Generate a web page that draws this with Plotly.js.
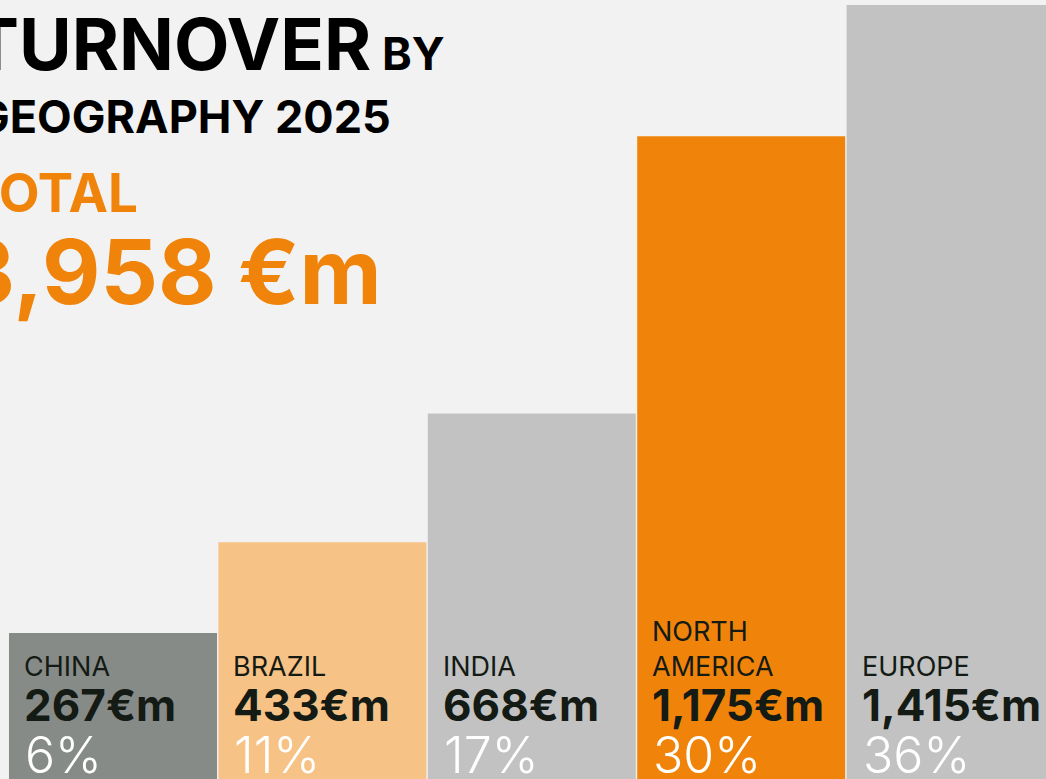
<!DOCTYPE html>
<html>
<head>
<meta charset="utf-8">
<script src="https://cdn.plot.ly/plotly-3.0.1.min.js"></script>
<style>html,body{margin:0;padding:0;background:#F2F2F2;}#chart{width:1046px;height:779px;}</style>
</head>
<body>
<div id="chart"></div>
<script>
const categories = ["CHINA", "BRAZIL", "INDIA", "NORTH<br>AMERICA", "EUROPE"];
const values = [267, 433, 668, 1175, 1415];
const valueLabels = ["267€m", "433€m", "668€m", "1,175€m", "1,415€m"];
const percentLabels = ["6%", "11%", "17%", "30%", "36%"];
const barColors = ["#878B87", "#F7C285", "#C2C2C2", "#F0840A", "#C2C2C2"];
const totalLabel = "3,958 €m";

const FONT = "Inter, 'Open Sans', sans-serif";
const xs = categories.map((c, i) => i);

const trace = {
  type: "bar",
  x: xs,
  y: values,
  marker: {color: barColors, line: {width: 0}},
  hoverinfo: "skip"
};

const annotations = [];
categories.forEach((c, i) => {
  annotations.push({
    xref: "x", yref: "paper", x: i, y: 0.121, xanchor: "left", yanchor: "bottom",
    xshift: -91, text: c, showarrow: false, align: "left",
    font: {family: FONT, size: 27, color: "#141A14", weight: 400}
  });
  annotations.push({
    xref: "x", yref: "paper", x: i, y: 0.0945, xanchor: "left", yanchor: "middle",
    xshift: -91, text: valueLabels[i], showarrow: false, align: "left",
    font: {family: FONT, size: 44, color: "#141A14", weight: 700}
  });
  annotations.push({
    xref: "x", yref: "paper", x: i, y: 0.031, xanchor: "left", yanchor: "middle",
    xshift: -90, text: percentLabels[i], showarrow: false, align: "left",
    font: {family: FONT, size: 50, color: "#FFFFFF", weight: 300}
  });
});

annotations.push({
  xref: "paper", yref: "paper", x: -0.03, y: 0.944, xanchor: "left", yanchor: "middle",
  text: "TURNOVER<span style='font-size:45px'> BY</span>", showarrow: false,
  font: {family: FONT, size: 72, color: "#000000", weight: 700}
});
annotations.push({
  xref: "paper", yref: "paper", x: -0.025, y: 0.850, xanchor: "left", yanchor: "middle",
  text: "GEOGRAPHY 2025", showarrow: false,
  font: {family: FONT, size: 45, color: "#000000", weight: 700}
});
annotations.push({
  xref: "paper", yref: "paper", x: -0.035, y: 0.752, xanchor: "left", yanchor: "middle",
  text: "TOTAL", showarrow: false,
  font: {family: FONT, size: 53, color: "#F0840A", weight: 700}
});
annotations.push({
  xref: "paper", yref: "paper", x: -0.043, y: 0.651, xanchor: "left", yanchor: "middle",
  text: totalLabel, showarrow: false,
  font: {family: FONT, size: 90, color: "#F0840A", weight: 700}
});

const layout = {
  width: 1046, height: 779,
  margin: {l: 0, r: 0, t: 0, b: 0, pad: 0},
  paper_bgcolor: "#F2F2F2", plot_bgcolor: "#F2F2F2",
  showlegend: false,
  bargap: 0.0067,
  xaxis: {range: [-0.5396, 4.4556], showticklabels: false, showgrid: false, zeroline: false, showline: false, fixedrange: true},
  yaxis: {range: [0, 1424], showticklabels: false, showgrid: false, zeroline: false, showline: false, fixedrange: true},
  annotations: annotations
};

Plotly.newPlot("chart", [trace], layout, {displayModeBar: false, staticPlot: true});
</script>
</body>
</html>
